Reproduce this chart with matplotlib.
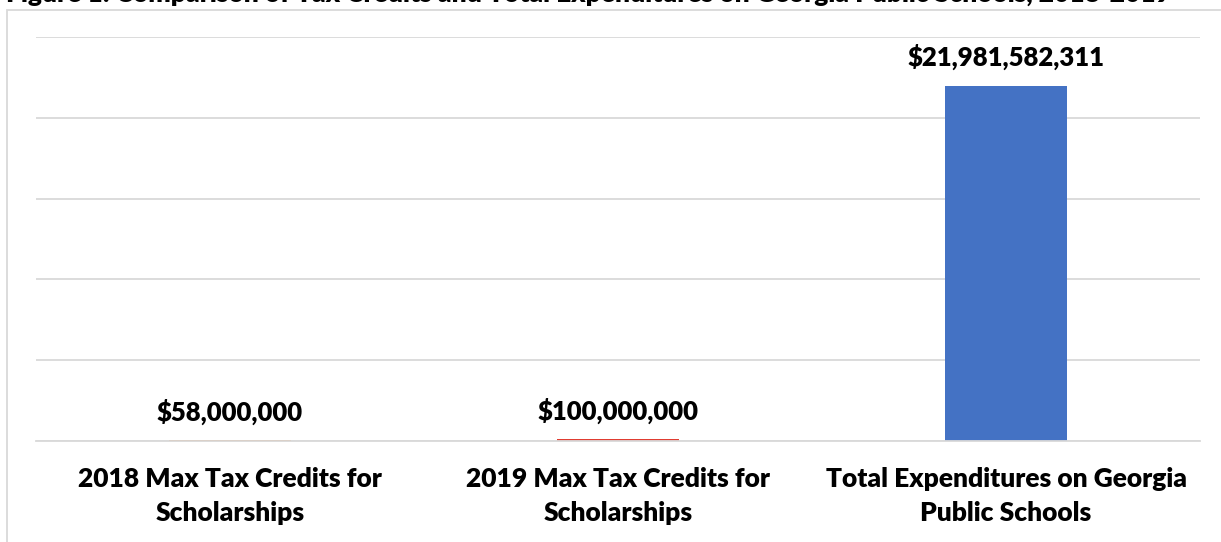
import matplotlib
matplotlib.use("Agg")
from matplotlib import pyplot as plt
from matplotlib.patches import Rectangle

# data
categories = ["2018 Max Tax Credits for\nScholarships",
              "2019 Max Tax Credits for\nScholarships",
              "Total Expenditures on Georgia\nPublic Schools"]
values = [58000000, 100000000, 21981582311]
bar_colors = ["#ED7D31", "#E03C31", "#4472C4"]
title = "Figure 1: Comparison of Tax Credits and Total Expenditures on Georgia Public Schools, 2018-2019"

W, H = 1221, 542
plt.rcParams['font.family'] = ['Lato', 'DejaVu Sans']

fig = plt.figure(figsize=(W / 100, H / 100), dpi=100)

# chart frame (cut off on the right and bottom)
fig.patches.append(Rectangle((7 / W, -0.1), 1.2, 1 - 10 / H + 0.1,
                             transform=fig.transFigure, fill=False,
                             edgecolor="#D9D9D9", linewidth=1.3))

# title, mostly above the visible area (cut off like in the source page)
fig.text(6 / W, 1 - 2 / H, title, fontsize=19, fontweight='heavy',
         ha='left', va='baseline')

ax = fig.add_axes([36 / W, 1 - 441 / H, 1164 / W, 404 / H])
x = list(range(len(categories)))
ax.bar(x, values, width=0.315, color=bar_colors, zorder=2)

ax.set_xlim(-0.5, 2.5)
ax.set_ylim(0, 25e9)
ax.set_yticks([0, 5e9, 10e9, 15e9, 20e9, 25e9])
ax.yaxis.grid(True, color="#D9D9D9", linewidth=1.3, zorder=1)
ax.set_axisbelow(True)
ax.tick_params(axis='y', left=False, labelleft=False)
ax.tick_params(axis='x', bottom=False, pad=15)
for s in ['top', 'right', 'left']:
  ax.spines[s].set_visible(False)
ax.spines['bottom'].set_color("#D9D9D9")
ax.spines['bottom'].set_linewidth(1.3)
ax.spines['bottom'].set_zorder(4)

ax.set_xticks(x)
ax.set_xticklabels(categories, fontsize=19, fontweight='heavy',
                   linespacing=1.5)

for xi, v in zip(x, values):
  ax.annotate("${:,}".format(v), (xi, v), xytext=(0, 11),
              textcoords='offset points', ha='center', va='bottom',
              fontsize=18.5, fontweight='heavy')

fig.savefig("out.png", dpi=100)
